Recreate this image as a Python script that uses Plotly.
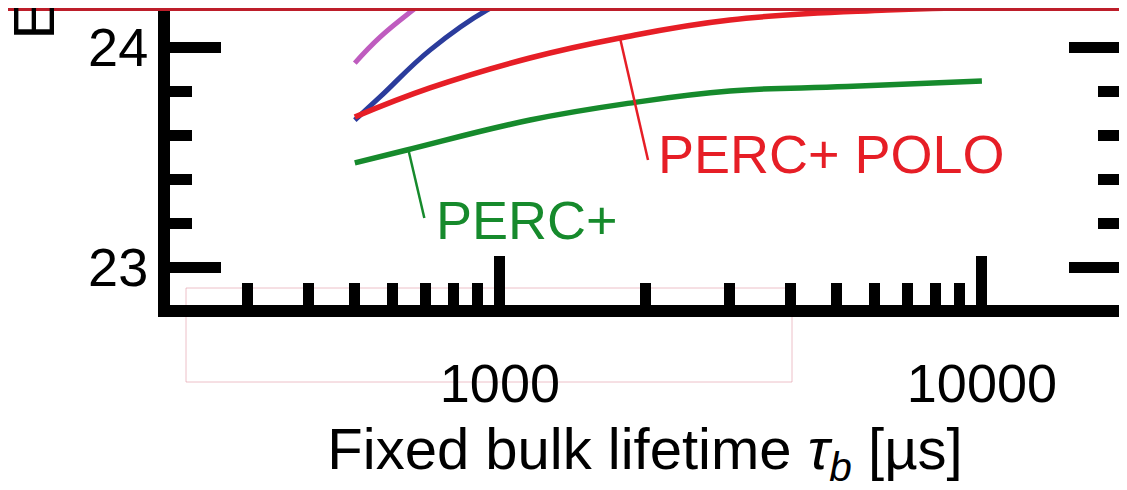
import math
import plotly.graph_objects as go

# ---- data ----
lifetime_perc = [500, 641, 1155, 1862, 3000, 5250, 10000]
eff_perc = [23.473, 23.532, 23.668, 23.745, 23.800, 23.820, 23.845]

lifetime_polo = [500, 716, 1154, 1774, 3000, 6360, 10000]
eff_polo = [23.682, 23.814, 23.950, 24.041, 24.123, 24.168, 24.180]

lifetime_blue = [500, 564, 716, 940, 1100]
eff_blue = [23.668, 23.773, 23.986, 24.168, 24.235]

lifetime_magenta = [500, 564, 660, 720]
eff_magenta = [23.927, 24.045, 24.168, 24.23]

# leader lines for the labels: (x0, y0, x1, y1) in data units
leader_polo = [1775, 24.041, 2029, 23.486]
leader_perc = [646, 23.532, 697, 23.223]

x_major_ticks = [1000, 10000]
x_major_text = ["1000", "10000"]
x_minor_ticks = [300, 400, 500, 600, 700, 800, 900,
                 2000, 3000, 4000, 5000, 6000, 7000, 8000, 9000]

GREEN = "#168a2c"
RED = "#e61e26"
BLUE = "#2b3c9c"
MAGENTA = "#bf5cbf"
FONT = "Liberation Sans, Arial, sans-serif"

fig = go.Figure()

def add_line(x, y, color, width=5.5):
    fig.add_trace(go.Scatter(x=x, y=y, mode="lines",
                             line=dict(color=color, width=width, shape="spline", smoothing=1.2),
                             showlegend=False, hoverinfo="skip"))

add_line(lifetime_magenta, eff_magenta, MAGENTA, 5)
add_line(lifetime_blue, eff_blue, BLUE, 5)
add_line(lifetime_polo, eff_polo, RED, 5.5)
add_line(lifetime_perc, eff_perc, GREEN, 5.5)

for seg, col in [(leader_polo, RED), (leader_perc, GREEN)]:
    fig.add_trace(go.Scatter(x=[seg[0], seg[2]], y=[seg[1], seg[3]], mode="lines",
                             line=dict(color=col, width=2.5),
                             showlegend=False, hoverinfo="skip"))

# The page body has an 8px margin: the figure starts at page pixel (8, 8).
OFF = 8
PAGE_W, PAGE_H = 1127, 490
W, H = PAGE_W - OFF, PAGE_H - OFF
# plot-area edges in page pixels (axis lines are drawn just outside them)
PLOT_LEFT, PLOT_RIGHT, PLOT_TOP, PLOT_BOTTOM = 170, 1120, OFF, 305
L = PLOT_LEFT - OFF
R = W - (PLOT_RIGHT - OFF)
T = 0
B = H - (PLOT_BOTTOM - OFF)
pw = PLOT_RIGHT - PLOT_LEFT
ph = PLOT_BOTTOM - PLOT_TOP

# axis scales (page pixels): 200 us at x=163, 482 px per decade;
# 22.8 % at y=311, 220 px per percent
X0_PX, X0_LOG, DEC_PX = 163, math.log10(200), 482.0
Y0_PX, Y0_VAL, UNIT_PX = 311, 22.8, 220.0
x_range = [X0_LOG + (PLOT_LEFT - X0_PX) / DEC_PX, X0_LOG + (PLOT_RIGHT - X0_PX) / DEC_PX]
y_range = [Y0_VAL + (Y0_PX - PLOT_BOTTOM) / UNIT_PX, Y0_VAL + (Y0_PX - PLOT_TOP) / UNIT_PX]

def px(xp):
    return (xp - PLOT_LEFT) / pw

def py(yp):
    return (PLOT_BOTTOM - yp) / ph

fig.add_annotation(x=px(656), y=py(154), xref="paper", yref="paper",
                   text="PERC+ POLO", showarrow=False, xanchor="left", yanchor="middle",
                   font=dict(family=FONT, size=54, color=RED))
fig.add_annotation(x=px(434), y=py(220), xref="paper", yref="paper",
                   text="PERC+", showarrow=False, xanchor="left", yanchor="middle",
                   font=dict(family=FONT, size=54, color=GREEN))
# cropped y-axis title (only the first letter is visible)
fig.add_annotation(x=px(33), y=py(42), xref="paper", yref="paper",
                   text="Efficiency η [%]", showarrow=False, textangle=-90,
                   xanchor="center", yanchor="bottom",
                   font=dict(family=FONT, size=58, color="black"))

# red bar at the top edge of the cropped figure
fig.add_shape(type="rect", xref="paper", yref="paper",
              x0=px(0), x1=px(PAGE_W), y0=py(11), y1=py(2),
              fillcolor="#bd1e2a", line=dict(width=0), layer="above")
# faint pink frame artefact
fig.add_shape(type="rect", xref="paper", yref="paper",
              x0=px(186), x1=px(792), y0=py(382), y1=py(288),
              line=dict(color="rgba(225,150,165,0.6)", width=1), layer="below")

tickfont = dict(family=FONT, size=54, color="black")

fig.update_xaxes(
    type="log", range=x_range,
    automargin=False,
    showline=True, linewidth=12, linecolor="black", mirror=False,
    showgrid=False, zeroline=False,
    tickmode="array", tickvals=x_major_ticks, ticktext=x_major_text,
    ticks="inside", ticklen=49, tickwidth=11, tickcolor="black",
    tickfont=tickfont, ticklabelstandoff=20,
    minor=dict(tickmode="array", tickvals=x_minor_ticks, ticks="inside",
               ticklen=22, tickwidth=11, tickcolor="black", showgrid=False),
    title=dict(text="Fixed bulk lifetime <i>τ</i><sub><i>b</i></sub> [µs]",
               font=dict(family=FONT, size=58, color="black"), standoff=49),
)
fig.update_yaxes(
    range=y_range,
    automargin=False,
    showline=True, linewidth=12, linecolor="black", mirror="ticks",
    showgrid=False, zeroline=False,
    tickmode="linear", tick0=23, dtick=1,
    ticks="inside", ticklen=51, tickwidth=11, tickcolor="black",
    tickfont=tickfont, ticklabelstandoff=-1,
    minor=dict(dtick=0.2, tick0=23, ticks="inside", ticklen=22, tickwidth=11,
               tickcolor="black", showgrid=False),
)

fig.update_layout(
    width=W, height=H,
    margin=dict(l=L, r=R, t=T, b=B, pad=0, autoexpand=False),
    plot_bgcolor="white", paper_bgcolor="white",
    showlegend=False,
)

fig.write_html("out.html")
